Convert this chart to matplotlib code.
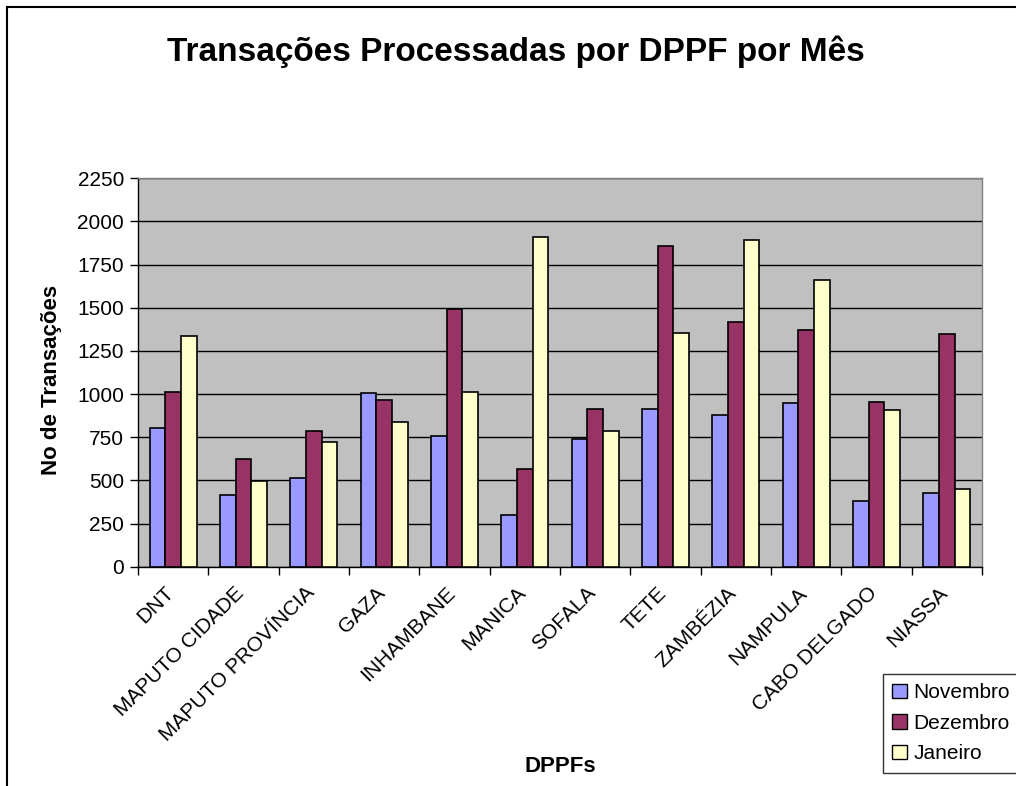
import matplotlib
matplotlib.use("Agg")
import matplotlib.pyplot as plt
import matplotlib.transforms as mtransforms
import numpy as np
from matplotlib.patches import Patch
from matplotlib.lines import Line2D

plt.rcParams['font.family'] = ['Liberation Sans', 'DejaVu Sans']

categories = ["DNT", "MAPUTO CIDADE", "MAPUTO PROVÍNCIA", "GAZA", "INHAMBANE", "MANICA",
              "SOFALA", "TETE", "ZAMBÉZIA", "NAMPULA", "CABO DELGADO", "NIASSA"]
novembro = [805, 415, 514, 1004, 755, 299, 740, 914, 879, 946, 382, 425]
dezembro = [1014, 622, 788, 964, 1493, 564, 914, 1858, 1420, 1369, 954, 1346]
janeiro = [1336, 496, 722, 838, 1014, 1908, 788, 1352, 1893, 1661, 906, 448]
series_names = ["Novembro", "Dezembro", "Janeiro"]
colors = ["#9999FF", "#993366", "#FFFFCC"]
yticks = [0, 250, 500, 750, 1000, 1250, 1500, 1750, 2000, 2250]

W, H = 1016, 786
fig = plt.figure(figsize=(W / 100, H / 100), dpi=100)
ax = fig.add_axes([138 / W, 1 - 566.7 / H, (982 - 138) / W, (566.7 - 178.3) / H])
ax.set_facecolor("#C0C0C0")

x = np.arange(len(categories))
bw = 0.222
for i, (vals, c) in enumerate(zip([novembro, dezembro, janeiro], colors)):
    ax.bar(x + (i - 1) * bw, vals, width=bw, color=c, edgecolor="black", linewidth=1.2, zorder=3)

ax.set_xlim(-0.5, len(categories) - 0.5)
ax.set_ylim(0, 2250)
ax.set_yticks(yticks)
ax.set_yticklabels([str(v) for v in yticks], fontsize=15)
ax.yaxis.grid(True, color="black", linewidth=1.0, zorder=1)
ax.set_axisbelow(True)

ax.set_xticks(np.arange(-0.5, len(categories) + 0.5, 1.0))
ax.set_xticklabels([])
ax.tick_params(axis='x', direction='out', length=6, width=1, color='black')
ax.tick_params(axis='y', direction='out', length=6, width=1, color='black', pad=4)
ax.set_xticks(x, minor=True)
ax.set_xticklabels(categories, minor=True, rotation=45, ha='right', rotation_mode='anchor', fontsize=15)
ax.tick_params(axis='x', which='minor', length=0, pad=12)
offset = mtransforms.ScaledTranslation(-0.09, 0.0, fig.dpi_scale_trans)
for lbl in ax.get_xticklabels(minor=True):
    lbl.set_transform(lbl.get_transform() + offset)

for s in ['top', 'right']:
    ax.spines[s].set_color('#808080')
    ax.spines[s].set_linewidth(1.0)
for s in ['left', 'bottom']:
    ax.spines[s].set_color('black')
    ax.spines[s].set_linewidth(1.0)

fig.text(516 / W, 1 - 52 / H, "Transações Processadas por DPPF por Mês", ha='center', va='center',
         fontsize=24, fontweight='bold')
fig.text(52 / W, 1 - 380 / H, "No de Transações", ha='center', va='center', rotation=90,
         fontsize=16, fontweight='bold')
fig.text(560 / W, 1 - 767 / H, "DPPFs", ha='center', va='center', fontsize=16, fontweight='bold')

handles = [Patch(facecolor=c, edgecolor='black', label=n) for c, n in zip(colors, series_names)]
leg = fig.legend(handles=handles, loc='upper left', bbox_to_anchor=(883 / W, 1 - 674 / H),
                 frameon=True, fancybox=False, fontsize=15, handlelength=0.7, handleheight=0.7,
                 handletextpad=0.3, borderpad=0.45, labelspacing=0.55, borderaxespad=0)
leg.get_frame().set_edgecolor('black')
leg.get_frame().set_linewidth(1.0)

# outer chart border (top and left visible)
fig.add_artist(Line2D([7 / W, 7 / W], [0, 1 - 7 / H], color='black', linewidth=1.5, transform=fig.transFigure))
fig.add_artist(Line2D([7 / W, 1], [1 - 7 / H, 1 - 7 / H], color='black', linewidth=1.5, transform=fig.transFigure))

fig.savefig("out.png", dpi=100, facecolor='white')
